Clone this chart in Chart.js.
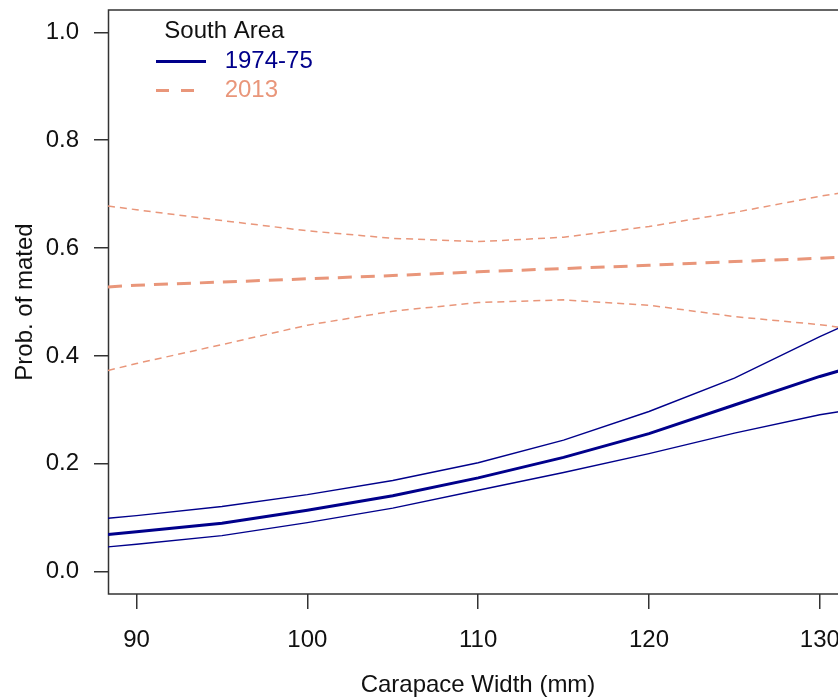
<!DOCTYPE html>
<html>
<head>
<meta charset="utf-8">
<script src="https://cdn.jsdelivr.net/npm/chart.js@4"></script>
<style>
  html, body { margin: 0; padding: 0; overflow: hidden; background: #fff; }
</style>
</head>
<body>
<canvas id="grafico" width="860" height="700"></canvas>
<script>
// carapace width (mm) where the curves were read
const cw = [88.33, 90, 95, 100, 105, 110, 115, 120, 125, 130, 131.2];

// 1974-75 fit and confidence band
const fit1974 = [0.069, 0.074, 0.090, 0.114, 0.141, 0.174, 0.212, 0.256, 0.309, 0.362, 0.373];
const hi1974  = [0.099, 0.104, 0.121, 0.143, 0.169, 0.202, 0.244, 0.297, 0.359, 0.436, 0.453];
const lo1974  = [0.046, 0.051, 0.067, 0.091, 0.118, 0.151, 0.184, 0.219, 0.257, 0.291, 0.297];

// 2013 fit and confidence band
const fit2013 = [0.528, 0.531, 0.537, 0.543, 0.549, 0.556, 0.562, 0.568, 0.575, 0.581, 0.583];
const hi2013  = [0.678, 0.671, 0.651, 0.632, 0.618, 0.612, 0.620, 0.640, 0.666, 0.696, 0.702];
const lo2013  = [0.373, 0.386, 0.421, 0.457, 0.483, 0.499, 0.504, 0.494, 0.473, 0.458, 0.453];

const xTicks = [90, 100, 110, 120, 130];
const yTicks = [0, 0.2, 0.4, 0.6, 0.8, 1.0];

const azul = '#00008B';
const salmon = '#E9967A';

Chart.defaults.font.family = '"Liberation Sans", Arial, sans-serif';
Chart.defaults.font.size = 24;
Chart.defaults.color = '#111';

function puntos(ys) {
    return cw.map((x, i) => ({ x: x, y: ys[i] }));
}

function serie(label, ys, color, width, dash) {
    return {
        label: label,
        data: puntos(ys),
        borderColor: color,
        backgroundColor: color,
        borderWidth: width,
        borderDash: dash,
        pointRadius: 0,
        tension: 0,
        fill: false
    };
}

// frame around the plot region (R style box)
const marco = {
    id: 'marco',
    beforeDatasetsDraw(chart) {
        const a = chart.chartArea;
        const ctx = chart.ctx;
        ctx.save();
        ctx.strokeStyle = '#333';
        ctx.lineWidth = 1.5;
        ctx.strokeRect(a.left + 0.5, a.top, a.right - a.left, a.bottom - a.top);
        ctx.restore();
    }
};

// move the legend to where it sits in the original
const moverLeyenda = {
    id: 'moverLeyenda',
    afterLayout(chart) {
        const lg = chart.legend;
        if (!lg) return;
        const w = lg.width;
        lg.left = 151;
        lg.right = 151 + w;
        lg.top = 10;
        lg.bottom = 10 + lg.height;
    }
};

new Chart(document.getElementById('grafico').getContext('2d'), {
    type: 'line',
    data: {
        datasets: [
            serie('1974-75', fit1974, azul, 3, []),
            serie('hi1974', hi1974, azul, 1.4, []),
            serie('lo1974', lo1974, azul, 1.4, []),
            serie('2013', fit2013, salmon, 3, [14, 9]),
            serie('hi2013', hi2013, salmon, 1.5, [7, 5]),
            serie('lo2013', lo2013, salmon, 1.5, [7, 5])
        ]
    },
    options: {
        responsive: false,
        animation: false,
        layout: { padding: { left: 0, top: 10, right: 12, bottom: 0 } },
        plugins: {
            tooltip: { enabled: false },
            legend: {
                position: 'chartArea',
                align: 'start',
                title: {
                    display: true,
                    text: '  South Area',
                    color: '#111',
                    position: 'start',
                    font: { size: 24, lineHeight: 1 },
                    padding: { top: 9.5, bottom: 1 }
                },
                labels: {
                    usePointStyle: true,
                    pointStyle: 'line',
                    pointStyleWidth: 50,
                    padding: 5,
                    font: { size: 24 },
                    generateLabels(chart) {
                        const items = Chart.defaults.plugins.legend.labels.generateLabels(chart)
                            .filter(it => it.datasetIndex === 0 || it.datasetIndex === 3);
                        items.forEach(it => {
                            it.fontColor = it.strokeStyle;
                            it.text = ' ' + it.text;
                            if (it.datasetIndex === 3) it.lineDash = [13, 12];
                        });
                        return items;
                    }
                }
            }
        },
        scales: {
            x: {
                type: 'linear',
                min: 88.33,
                max: 131.65,
                afterFit(scale) {
                    scale.height = 106;
                    scale.paddingLeft = 0;
                    scale.paddingRight = 0;
                },
                afterBuildTicks(scale) { scale.ticks = xTicks.map(v => ({ value: v })); },
                ticks: {
                    padding: 17,
                    maxRotation: 0,
                    callback: v => String(v)
                },
                grid: {
                    drawOnChartArea: false,
                    drawTicks: true,
                    tickLength: 15,
                    color: '#333',
                    lineWidth: 1.5
                },
                border: { display: false },
                title: {
                    display: true,
                    text: 'Carapace Width (mm)',
                    color: '#111',
                    padding: { top: 0, bottom: 0 }
                }
            },
            y: {
                type: 'linear',
                min: -0.0413,
                max: 1.0413,
                afterFit(scale) {
                    scale.width = 108;
                    scale.paddingTop = 0;
                    scale.paddingBottom = 0;
                },
                afterBuildTicks(scale) { scale.ticks = yTicks.map(v => ({ value: v })); },
                ticks: {
                    padding: 15,
                    callback: v => v.toFixed(1)
                },
                grid: {
                    drawOnChartArea: false,
                    drawTicks: true,
                    tickLength: 14,
                    color: '#333',
                    lineWidth: 1.5
                },
                border: { display: false },
                title: {
                    display: true,
                    text: 'Prob. of mated',
                    color: '#111',
                    padding: { top: 11, bottom: 0 }
                }
            }
        }
    },
    plugins: [marco, moverLeyenda]
});
</script>
</body>
</html>
